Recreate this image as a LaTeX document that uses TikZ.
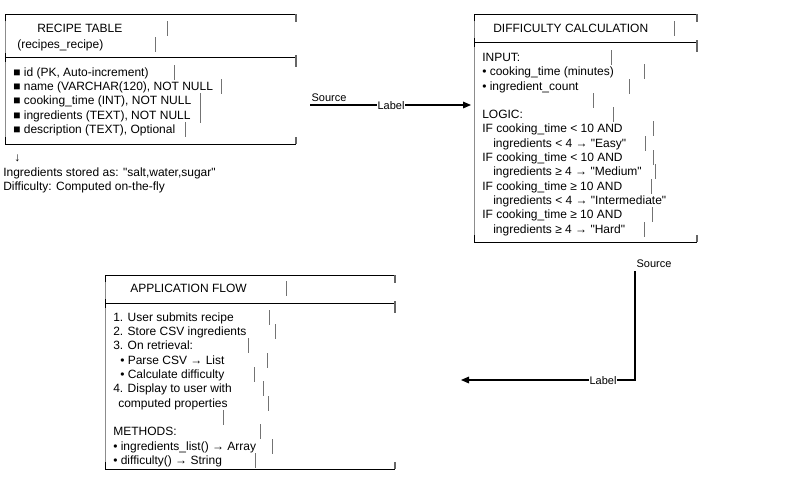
\documentclass[tikz,border=0pt]{standalone}
\usepackage{fontspec}
\setmainfont{Liberation Sans}[Ligatures=TeXOff]
\usetikzlibrary{arrows.meta}
% gray end-of-line marker after a text row
\newcommand\vbar[2]{\draw[bar] (#1,#2-7) -- (#1,#2+8);}
% framed panel: left, top, separator, bottom, right
\newcommand\panelframe[5]{%
  \draw[edge] (#1,#2) -- (#1,#4);
  \draw[rule] (#1,#2+7) -- (#1,#2) -- (#5,#2);
  \draw[rule] (#1,#3) -- (#5,#3);
  \draw[rule] (#1,#4-7) -- (#1,#4) -- (#5,#4);
  \draw[rule] (#1,#3-4) -- (#1,#3+5);
  \draw[tick] (#5,#2) -- (#5,#2+8);
  \draw[tick] (#5,#3-2) -- (#5,#3+10);
  \draw[tick] (#5,#4-7) -- (#5,#4);
}
\begin{document}
\begin{tikzpicture}[x=0.75pt,y=-0.75pt,
  txt/.style={anchor=west,inner sep=0pt,font=\fontsize{9}{10.8}\selectfont,text height=6.5pt,text depth=0pt},
  rule/.style={line width=0.75pt,black},
  edge/.style={line width=0.75pt,black!45},
  tick/.style={line width=0.9pt,black!60},
  bar/.style={line width=0.75pt,black!55},
  conn/.style={line width=0.8pt,-{Triangle[length=6pt,width=5pt]}},
  lbl/.style={font=\fontsize{8.25}{9}\selectfont,inner sep=0.5pt,text height=6pt,text depth=0pt}]
\useasboundingbox (0,0) rectangle (800,500);

% ---------- recipe table ----------
\panelframe{5}{14}{57}{144}{296}
\node[txt] (rtitle) at (37,28) {RECIPE TABLE};
\node[txt] (rname) at (17,44) {(recipes\_recipe)};
\vbar{167}{28} \vbar{155}{44}
\node[txt] (rid) at (13,72) {■ id (PK, Auto-increment)};
\node[txt] (rnm) at (13,86) {■ name (VARCHAR(120), NOT NULL};
\node[txt] (rct) at (13,100) {■ cooking\_time (INT), NOT NULL};
\node[txt] (ring) at (13,115) {■ ingredients (TEXT), NOT NULL};
\node[txt] (rdesc) at (13,129) {■ description (TEXT), Optional};
\vbar{174}{72} \vbar{221}{86} \vbar{200}{100} \vbar{200}{115} \vbar{185}{129}
\node[txt] (rdown) at (14,157) {↓};
\node[txt] (rnote1) at (3,172) {Ingredients stored as: "salt,water,sugar"};
\node[txt] (rnote2) at (3,186) {Difficulty: Computed on-the-fly};

% ---------- difficulty calculation ----------
\panelframe{474}{14}{42}{242}{697}
\node[txt] (dtitle) at (493,28) {DIFFICULTY CALCULATION};
\vbar{674}{28}
\node[txt] (din) at (482,57) {INPUT:};
\node[txt] (dct) at (482,71) {• cooking\_time (minutes)};
\node[txt] (dic) at (482,86) {• ingredient\_count};
\node[txt] (dlog) at (482,114) {LOGIC:};
\node[txt] (dif1) at (482,128) {IF cooking\_time < 10 AND};
\node[txt] (dr1) at (493,143) {ingredients < 4 → "Easy"};
\node[txt] (dif2) at (482,157) {IF cooking\_time < 10 AND};
\node[txt] (dr2) at (493,171) {ingredients ≥ 4 → "Medium"};
\node[txt] (dif3) at (482,186) {IF cooking\_time ≥ 10 AND};
\node[txt] (dr3) at (493,200) {ingredients < 4 → "Intermediate"};
\node[txt] (dif4) at (482,214) {IF cooking\_time ≥ 10 AND};
\node[txt] (dr4) at (493,229) {ingredients ≥ 4 → "Hard"};
\vbar{611}{57} \vbar{644}{71} \vbar{629}{86} \vbar{593}{100} \vbar{613}{114}
\vbar{653}{128} \vbar{645}{143} \vbar{653}{157} \vbar{655}{171} \vbar{651}{186}
\vbar{652}{214} \vbar{644}{229}

% ---------- application flow ----------
\panelframe{105}{275}{303}{469}{395}
\node[txt] (atitle) at (130,288) {APPLICATION FLOW};
\vbar{286}{288}
\node[txt] (a1) at (113,317) {1. User submits recipe};
\node[txt] (a2) at (113,331) {2. Store CSV ingredients};
\node[txt] (a3) at (113,345) {3. On retrieval:};
\node[txt] (a3a) at (120,360) {• Parse CSV → List};
\node[txt] (a3b) at (120,374) {• Calculate difficulty};
\node[txt] (a4) at (113,388) {4. Display to user with};
\node[txt] (a4b) at (118,403) {computed properties};
\node[txt] (am) at (113,431) {METHODS:};
\node[txt] (am1) at (113,446) {• ingredients\_list() → Array};
\node[txt] (am2) at (113,460) {• difficulty() → String};
\vbar{269}{317} \vbar{275}{331} \vbar{248}{345} \vbar{267}{360} \vbar{254}{374}
\vbar{263}{388} \vbar{268}{403} \vbar{223}{417} \vbar{260}{431} \vbar{272}{446}
\vbar{255}{460}

% ---------- connectors ----------
\coordinate (s1) at (310,105);
\coordinate (t1) at (471,105);
\draw[conn] (s1) -- (t1);
\node[lbl] (src1) at (329,97) {Source};
\node[lbl,fill=white] (lab1) at (391,105) {Label};

\coordinate (s2) at (635,271);
\coordinate (t2) at (461,380);
\draw[conn] (s2) |- (t2);
\node[lbl] (src2) at (654,263) {Source};
\node[lbl,fill=white] (lab2) at (603,380) {Label};
\end{tikzpicture}
\end{document}
